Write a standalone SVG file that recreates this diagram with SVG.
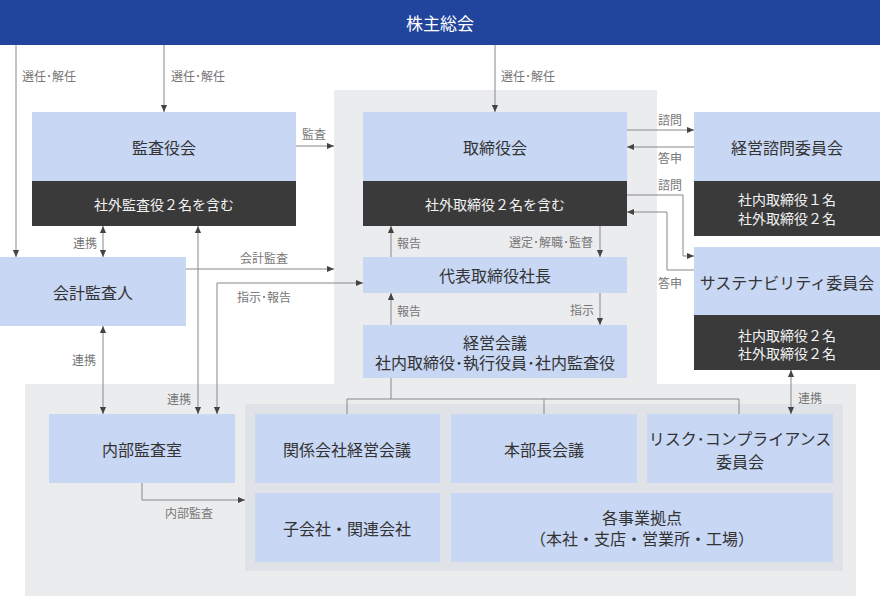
<svg xmlns="http://www.w3.org/2000/svg" width="880" height="596" viewBox="0 0 880 596">
<style>
.bg{fill:#ebecee}
.bg2{fill:#dfe2e6}
.lb{fill:#c8d7f3}
.dk{fill:#3a3a3a}
.t{font-family:"Noto Sans CJK JP","Noto Sans",sans-serif;font-size:16px;fill:#333;text-anchor:middle;dominant-baseline:central}
.tw{font-family:"Noto Sans CJK JP","Noto Sans",sans-serif;font-size:14px;fill:#f2f2f2;text-anchor:middle;dominant-baseline:central}
.l{font-family:"Noto Sans CJK JP","Noto Sans",sans-serif;font-size:12px;fill:#777;dominant-baseline:central}
.c{fill:none;stroke:#888;stroke-width:1}
</style>
<defs>
<marker id="a" viewBox="0 0 8 8" refX="8" refY="4" markerWidth="7" markerHeight="7" markerUnits="userSpaceOnUse" orient="auto-start-reverse"><path d="M0,0.5 L8,4 L0,7.5z" fill="#444"/></marker>
</defs>
<rect width="880" height="596" fill="#fff"/>
<g id="regions">
<rect class="bg" x="334" y="90" width="323" height="300"/>
<rect class="bg" x="25" y="384" width="831" height="212"/>
<rect class="bg2" x="245" y="404" width="598" height="167"/>
</g>
<g id="shareholders">
<rect x="0" y="0" width="880" height="45" fill="#21449c"/>
<text class="t" x="440" y="22" style="fill:#fff;font-size:17px">株主総会</text>
</g>
<g id="kansayakukai">
<rect class="lb" x="32" y="112" width="264" height="69"/>
<rect class="dk" x="32" y="181" width="264" height="45"/>
<text class="t" x="164" y="147">監査役会</text>
<text class="tw" x="164" y="204">社外監査役２名を含む</text>
</g>
<g id="torishimariyakukai">
<rect class="lb" x="363" y="112" width="264" height="69"/>
<rect class="dk" x="363" y="181" width="264" height="45"/>
<text class="t" x="495" y="147">取締役会</text>
<text class="tw" x="495" y="204">社外取締役２名を含む</text>
</g>
<g id="shimon">
<rect class="lb" x="694" y="112" width="186" height="69"/>
<rect class="dk" x="694" y="181" width="186" height="55"/>
<text class="t" x="787" y="147">経営諮問委員会</text>
<text class="tw" x="787" y="199">社内取締役１名</text>
<text class="tw" x="787" y="218">社外取締役２名</text>
</g>
<g id="kaikei">
<rect class="lb" x="0" y="257" width="186" height="69"/>
<text class="t" x="93" y="292">会計監査人</text>
</g>
<g id="daihyo">
<rect class="lb" x="363" y="257" width="264" height="36"/>
<text class="t" x="495" y="275">代表取締役社長</text>
</g>
<g id="sustainability">
<rect class="lb" x="694" y="247" width="186" height="68"/>
<rect class="dk" x="694" y="315" width="186" height="55"/>
<text class="t" x="787" y="282">サステナビリティ委員会</text>
<text class="tw" x="787" y="335">社内取締役２名</text>
<text class="tw" x="787" y="353">社外取締役２名</text>
</g>
<g id="keiei">
<rect class="lb" x="363" y="325" width="264" height="53"/>
<text class="t" x="495" y="342">経営会議</text>
<text class="t" x="495" y="362">社内取締役･執行役員･社内監査役</text>
</g>
<g id="naibu">
<rect class="lb" x="49" y="414" width="186" height="69"/>
<text class="t" x="142" y="449">内部監査室</text>
</g>
<g id="kankei">
<rect class="lb" x="255" y="414" width="185" height="69"/>
<text class="t" x="347" y="449">関係会社経営会議</text>
</g>
<g id="honbucho">
<rect class="lb" x="451" y="414" width="186" height="69"/>
<text class="t" x="544" y="449">本部長会議</text>
</g>
<g id="risk">
<rect class="lb" x="647" y="414" width="186" height="69"/>
<text class="t" x="740" y="438">リスク･コンプライアンス</text>
<text class="t" x="740" y="461">委員会</text>
</g>
<g id="kogaisha">
<rect class="lb" x="255" y="493" width="185" height="69"/>
<text class="t" x="347" y="528">子会社・関連会社</text>
</g>
<g id="kyoten">
<rect class="lb" x="451" y="493" width="382" height="69"/>
<text class="t" x="642" y="517">各事業拠点</text>
<text class="t" x="642" y="538">（本社・支店・営業所・工場）</text>
</g>
<g id="connectors">
<path class="c" d="M16,45 V257" marker-end="url(#a)"/>
<path class="c" d="M164,45 V112" marker-end="url(#a)"/>
<path class="c" d="M495,45 V112" marker-end="url(#a)"/>
<path class="c" d="M296,146 H334" marker-end="url(#a)"/>
<path class="c" d="M627,130 H694" marker-end="url(#a)"/>
<path class="c" d="M694,147 H627" marker-end="url(#a)"/>
<path class="c" d="M627,195 H683 V256 H694" marker-end="url(#a)"/>
<path class="c" d="M694,270 H667 V212 H627" marker-end="url(#a)"/>
<path class="c" d="M391,257 V226" marker-end="url(#a)"/>
<path class="c" d="M600,226 V257" marker-end="url(#a)"/>
<path class="c" d="M391,325 V293" marker-end="url(#a)"/>
<path class="c" d="M600,293 V325" marker-end="url(#a)"/>
<path class="c" d="M391,378 V399 M347,414 V399 H739 V414 M544,399 V414"/>
<path class="c" d="M103,226 V257" marker-start="url(#a)" marker-end="url(#a)"/>
<path class="c" d="M103,326 V414" marker-start="url(#a)" marker-end="url(#a)"/>
<path class="c" d="M198,226 V414" marker-start="url(#a)" marker-end="url(#a)"/>
<path class="c" d="M363,283 H217 V414" marker-start="url(#a)" marker-end="url(#a)"/>
<path class="c" d="M186,269 H334" marker-end="url(#a)"/>
<path class="c" d="M142,483 V500 H245" marker-end="url(#a)"/>
<path class="c" d="M791,370 V414" marker-start="url(#a)" marker-end="url(#a)"/>
</g>
<g id="labels">
<text class="l" x="22" y="75">選任･解任</text>
<text class="l" x="171" y="75">選任･解任</text>
<text class="l" x="501" y="75">選任･解任</text>
<text class="l" x="302" y="133">監査</text>
<text class="l" x="658" y="119">諮問</text>
<text class="l" x="658" y="157">答申</text>
<text class="l" x="658" y="184">諮問</text>
<text class="l" x="658" y="282">答申</text>
<text class="l" x="73" y="242">連携</text>
<text class="l" x="397" y="242">報告</text>
<text class="l" x="593" y="241" text-anchor="end">選定･解職･監督</text>
<text class="l" x="240" y="257">会計監査</text>
<text class="l" x="237" y="296">指示･報告</text>
<text class="l" x="397" y="310">報告</text>
<text class="l" x="594" y="309" text-anchor="end">指示</text>
<text class="l" x="72" y="359">連携</text>
<text class="l" x="167" y="398">連携</text>
<text class="l" x="798" y="397">連携</text>
<text class="l" x="165" y="512">内部監査</text>
</g>
</svg>
